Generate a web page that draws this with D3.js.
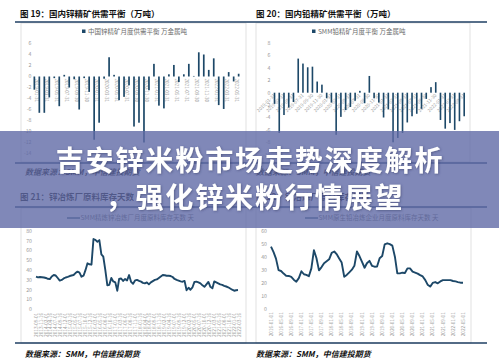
<!DOCTYPE html>
<html><head><meta charset="utf-8">
<script src="https://cdn.jsdelivr.net/npm/d3@7"></script>
<style>body{margin:0;background:#fff}svg{display:block}text{font-family:"Noto Sans CJK SC","Noto Sans",sans-serif}</style>
</head><body><svg id="c" width="499" height="361"></svg>
<script>
// ---------- DATA ----------
const zincMonths = ["2019-01","2019-02","2019-03","2019-04","2019-05","2019-06","2019-07","2019-08","2019-09","2019-10","2019-11","2019-12","2020-01","2020-02","2020-03","2020-04","2020-05","2020-06","2020-07","2020-08","2020-09","2020-10","2020-11","2020-12","2021-01","2021-02","2021-03","2021-04","2021-05","2021-06","2021-07","2021-08","2021-09","2021-10","2021-11","2021-12","2022-01","2022-02","2022-03","2022-04","2022-05","2022-06"];
const zincBalance = [-2.4,-6.6,-6.6,-3.8,-0.3,-5.4,0.3,-2.0,-0.5,-6.0,-0.3,-2.8,-11.5,-8.4,-0.4,3.5,0.3,-4.3,-3.7,-1.6,-9.1,-8.4,-12.0,-2.5,2.3,-5.3,-5.8,0.4,2.1,-1.0,0.4,2.3,0.1,4.4,4.0,1.2,3.3,-5.2,-5.9,0.8,-0.9,0.5];
const zincBalanceTicks = ["2019-01-31","2019-03-31","2019-05-31","2019-07-31","2019-09-30","2019-11-30","2020-01-31","2020-03-31","2020-05-31","2020-07-31","2020-09-30","2020-11-30","2021-01-31","2021-03-31","2021-05-31","2021-07-31","2021-09-30","2021-11-30","2022-01-31","2022-03-31","2022-05-31"];
const zincBalanceYTicks = [6,4,2,0,-2,-4,-6,-8,-10,-12,-14];

const leadMonths = ["2019-01","2019-02","2019-03","2019-04","2019-05","2019-06","2019-07","2019-08","2019-09","2019-10","2019-11","2019-12","2020-01","2020-02","2020-03","2020-04","2020-05","2020-06","2020-07","2020-08","2020-09","2020-10","2020-11","2020-12","2021-01","2021-02","2021-03","2021-04","2021-05","2021-06","2021-07","2021-08","2021-09","2021-10","2021-11","2021-12","2022-01","2022-02","2022-03","2022-04","2022-05"];
const leadBalance = [-1.8,-6.5,-3.6,-2.4,-1.5,5.5,4.7,4.1,4.2,1.8,1.3,-0.9,-1.6,-6.8,-3.9,-2.8,-2.3,-1.3,0.3,-1.7,2.7,-0.9,-1.6,-4.0,-2.7,-8.0,-7.3,-6.5,-4.8,-3.8,-3.4,-2.6,-1.0,0.9,1.7,-4.4,-5.8,-4.9,-6.0,-4.6,-3.8];
const leadBalanceTicks = ["2019-01-31","2019-03-31","2019-05-31","2019-07-31","2019-09-30","2019-11-30","2020-01-31","2020-03-31","2020-05-31","2020-07-31","2020-09-30","2020-11-30","2021-01-31","2021-03-31","2021-05-31","2021-07-31","2021-09-30","2021-11-30","2022-01-31","2022-03-31","2022-05-31"];
const leadBalanceYTicks = [8,6,4,2,0,-2,-4,-6,-8,-10];

const zincStockStart = "2013-09-01";
const zincStock = [33.3,32.6,33,32.8,32.5,32,31.2,30.8,33.5,35,34.5,32,29.3,30,31.5,32.5,33.2,34,34.5,35,37,38.5,37.4,33.3,34.3,40,47,46,45.6,71.8,71,69,70.7,56,53.7,40,24.5,25,32,28.5,27.5,19,31,31.5,29,31,29.5,35,28,26,29.5,30,29,28.3,27,26.5,27.5,25.5,27.5,28.8,30,30.5,32,33.5,35,34.8,34.3,34.3,34,33,31,30,29.3,28.5,28.2,29,19.5,22,20,22.5,28,28.2,27.5,26.5,24.5,23,25.5,28,23,21.4,28.5,27.5,26.5,25.5,25,24,23.3,22.5,21.2,20,19,19.5,19.7];
const zincStockTicks = ["2013-09-01","2013-11-16","2014-02-01","2014-04-16","2014-07-01","2014-09-16","2014-12-01","2015-02-16","2015-05-01","2015-07-16","2015-10-01","2015-12-16","2016-03-01","2016-05-16","2016-08-01","2016-10-16","2017-01-01","2017-03-16","2017-06-01","2017-08-16","2017-11-01","2018-01-16","2018-04-01","2018-06-16","2018-09-01","2018-11-16","2019-02-01","2019-04-16","2019-07-01","2019-09-16","2019-12-01","2020-02-16","2020-05-01","2020-07-16","2020-10-01","2020-12-16","2021-03-01","2021-05-16","2021-08-01","2021-10-16","2022-01-01","2022-03-16"];
const zincStockYTicks = [80,70,60,50,40,30,20,10,0];

const leadStockStart = "2016-01-01";
const leadStock = [47.7,43.5,38.5,29.7,29,27,25.4,25.2,24.5,22.3,20.8,23.5,28.8,26.5,26,25,31,45,39,29.5,32,35,36.5,38,43,44,42,38.7,35.5,24.6,26,28,30,33,44,40.5,36,31.5,35,36.8,33,32.3,32.5,38.8,40.5,49.5,50.3,49.7,48.5,40,27.2,27.2,27.7,27.5,31,31,28.5,27.8,27,25.8,24.8,22,18.5,17,19.8,20.5,19.5,21,22,22,22,22,21.3,21,20.5,20,20];
const leadStockTicks = ["2016-01-01","2016-05-01","2016-09-01","2017-01-01","2017-05-01","2017-09-01","2018-01-01","2018-05-01","2018-09-01","2019-01-01","2019-05-01","2019-09-01","2020-01-01","2020-05-01","2020-09-01","2021-01-01","2021-05-01","2021-09-01","2022-01-01","2022-05-01"];
const leadStockYTicks = [60,50,40,30,20,10,0];

// ---------- DRAW ----------
const svg = d3.select("#c");
const NAVY = "#1f3f63", BAR = "#1d4868", GRAY = "#9a9a9a", BORDER = "#d9d9d9";
const parse = d3.timeParse("%Y-%m-%d");

svg.append("rect").attr("width",499).attr("height",361).attr("fill","#fff");

// frames
[[21,23,246,162],[256,23,470,162],[21,208,246,343],[256,208,471,343]].forEach(b=>{
  svg.append("rect").attr("x",b[0]).attr("y",b[1]).attr("width",b[2]-b[0]).attr("height",b[3]-b[1])
    .attr("fill","none").attr("stroke",BORDER).attr("stroke-width",0.8);
});
// navy rules
[22,163,207,343].forEach(y=>{
  svg.append("line").attr("x1",15).attr("x2",487).attr("y1",y).attr("y2",y).attr("stroke",NAVY).attr("stroke-width",1.4);
});
// titles
function title(x,y,t){svg.append("text").attr("x",x).attr("y",y).attr("font-size",8.5).attr("font-weight","bold").attr("fill","#111").text(t);}
title(20,16.5,"图 19：国内锌精矿供需平衡（万吨）");
title(256,16.5,"图 20：国内铅精矿供需平衡（万吨）");
title(20,200,"图 21：锌冶炼厂原料库存天数");
title(256,200,"图 22：铅冶炼厂原料库存天数");
function source(x,y){svg.append("text").attr("x",x).attr("y",y).attr("font-size",8).attr("font-weight","bold").attr("font-style","italic").attr("fill","#111").text("数据来源：SMM，中信建投期货");}
source(25,175); source(256,175); source(25,357); source(256,357);

function yLabels(ticks,y,xr){
  svg.append("g").selectAll("text").data(ticks).join("text")
    .attr("x",xr).attr("y",d=>y(d)+1.8).attr("text-anchor","end").attr("font-size",5.2).attr("fill",GRAY).text(d=>d);
}

// bar chart
function barChart(cats,vals,ticks,yt,xr,yDom,yRange,labX,legendX,legendText,rot){
  const x = d3.scaleBand().domain(cats).range(xr).paddingInner(0.66);
  const y = d3.scaleLinear().domain(yDom).range(yRange);
  yLabels(yt,y,labX);
  const g = svg.append("g");
  g.selectAll("text.t").data(ticks).join("text").attr("class","t")
    .attr("font-size",4.6).attr("fill",GRAY)
    .attr("transform",d=>{
      const cx = x(d.slice(0,7)) + x.bandwidth()/2;
      return rot===90 ? `translate(${cx + x.step()/2 - 1.5},${y(0)+2}) rotate(90)` : `translate(${cx+1},${y(0)+3}) rotate(-45)`;
    })
    .attr("text-anchor",rot===90?"start":"end").text(d=>d);
  g.selectAll("rect").data(vals).join("rect")
    .attr("x",(d,i)=>x(cats[i])).attr("width",x.bandwidth())
    .attr("y",d=>y(Math.max(0,d))).attr("height",d=>Math.abs(y(d)-y(0)))
    .attr("fill",BAR);
  svg.append("rect").attr("x",legendX).attr("y",29.5).attr("width",3.5).attr("height",3.5).attr("fill",BAR);
  svg.append("text").attr("x",legendX+6).attr("y",33.6).attr("font-size",6.5).attr("fill","#6b6b6b").text(legendText);
}
barChart(zincMonths,zincBalance,zincBalanceTicks,zincBalanceYTicks,[33.5,239.5],[-14,6],[153.5,43.5],31.5,82,"中国锌精矿月度供需平衡 万金属吨",90);
barChart(leadMonths,leadBalance,leadBalanceTicks,leadBalanceYTicks,[273.7,465],[-10,8],[154.7,43.1],270.5,312,"SMM铅精矿月度平衡 万金属吨",-45);

// line chart
function lineChart(start,vals,ticks,yt,xr,yDom,yRange,labX,legendX,legendText){
  const s = parse(start);
  const dates = vals.map((v,i)=>d3.timeMonth.offset(s,i));
  const x = d3.scaleTime().domain([dates[0],dates[dates.length-1]]).range(xr);
  const y = d3.scaleLinear().domain(yDom).range(yRange);
  yLabels(yt,y,labX);
  svg.append("g").selectAll("text").data(ticks).join("text")
    .attr("font-size",4.7).attr("fill",GRAY).attr("text-anchor","end")
    .attr("transform",d=>`translate(${x(parse(d))+1.6},${y(0)+3.5}) rotate(-90)`).text(d=>d);
  svg.append("path").datum(vals).attr("fill","none").attr("stroke",BAR).attr("stroke-width",1.9).attr("stroke-linejoin","round")
    .attr("d",d3.line().x((d,i)=>x(dates[i])).y(d=>y(d)));
  svg.append("line").attr("x1",legendX).attr("x2",legendX+13).attr("y1",218).attr("y2",218).attr("stroke",BAR).attr("stroke-width",1.3);
  svg.append("text").attr("x",legendX+13.5).attr("y",220.3).attr("font-size",6.5).attr("fill","#6b6b6b").text(legendText);
}
lineChart(zincStockStart,zincStock,zincStockTicks,zincStockYTicks,[36,238],[0,80],[309.3,231],32,67,"SMM精炼锌冶炼厂月度原料库存天数 天");
lineChart(leadStockStart,leadStock,leadStockTicks,leadStockYTicks,[271,463],[0,60],[308.7,230.7],267,305,"SMM原生铅冶炼企业月度原料库存天数 天");

// banner
const defs = svg.append("defs");
const f = defs.append("filter").attr("id","sh").attr("x","-10%").attr("y","-20%").attr("width","120%").attr("height","150%");
f.append("feDropShadow").attr("dx",0.8).attr("dy",0.8).attr("stdDeviation",0.8).attr("flood-color","#303860").attr("flood-opacity",0.55);
svg.append("rect").attr("x",0).attr("y",131).attr("width",499).attr("height",97).attr("fill","rgb(96,106,166)").attr("fill-opacity",0.8);
svg.append("text").attr("x",250).attr("y",171).attr("text-anchor","middle").attr("font-size",28).attr("font-weight","bold")
  .attr("letter-spacing",1.9).attr("fill","#fff").attr("filter","url(#sh)").text("吉安锌米粉市场走势深度解析");
svg.append("text").attr("x",255).attr("y",208).attr("text-anchor","middle").attr("font-size",28).attr("font-weight","bold")
  .attr("letter-spacing",1.9).attr("fill","#fff").attr("filter","url(#sh)").text("，强化锌米粉行情展望");
</script></body></html>
